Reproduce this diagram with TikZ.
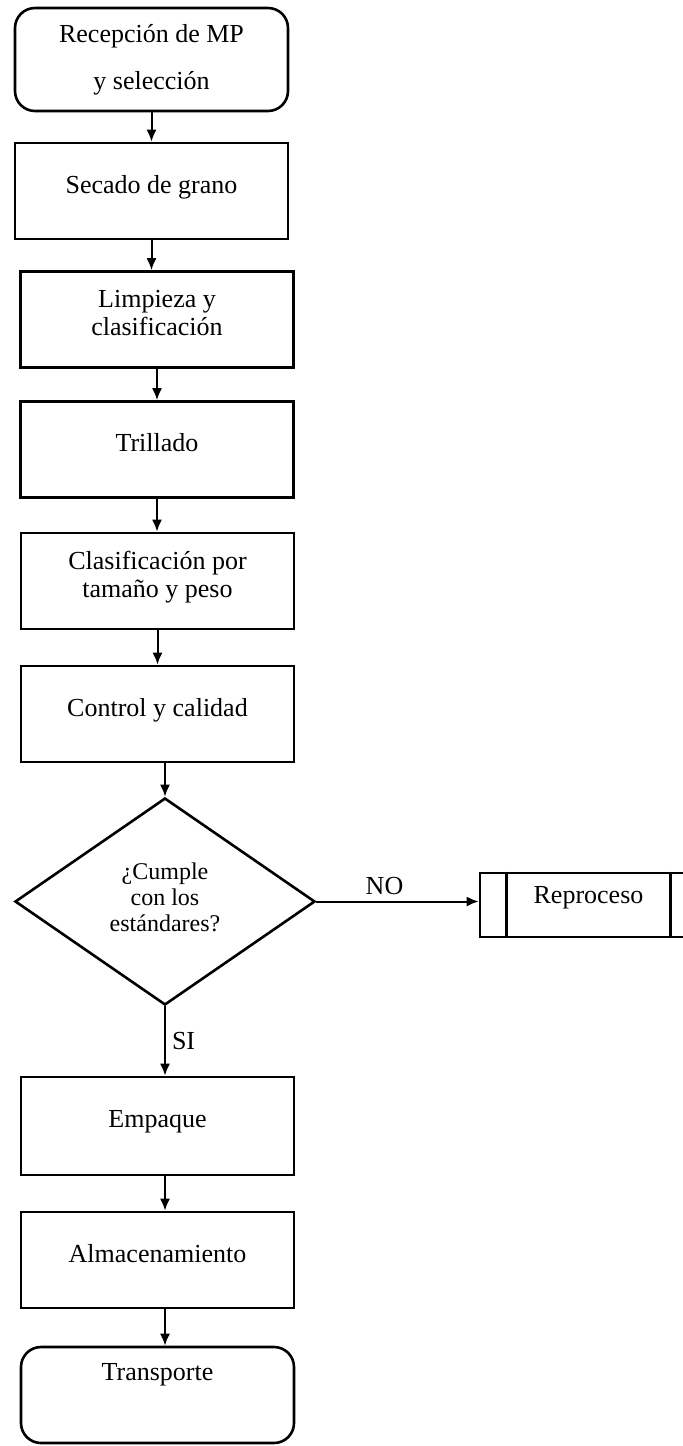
\documentclass[tikz,border=0pt]{standalone}
\usepackage{fontspec}
\setmainfont{Liberation Serif}
\usetikzlibrary{shapes.geometric,arrows.meta}

\tikzstyle{every node}=[font=\fontsize{13}{14}\selectfont, align=center]
\tikzstyle{proc}=[rectangle, draw, line width=1.3pt, minimum width=136.5pt, minimum height=48pt, text depth=7pt]
\tikzstyle{term}=[proc, rounded corners=10pt]
\tikzstyle{decis}=[diamond, draw, line width=1.3pt, minimum width=150pt, minimum height=103.5pt, inner sep=0pt, text depth=4pt, font=\fontsize{12}{13}\selectfont]
\tikzstyle{subproc}=[rectangle, draw, line width=1.3pt, minimum width=108.5pt, minimum height=32pt, text depth=10pt]

\begin{document}
\begin{tikzpicture}[x=0.5pt, y=-0.5pt]
    \useasboundingbox (0,0) rectangle (683,1446);
    \node[term, minimum height=51.5pt, text depth=3pt] (recep) at (151.5,59.5) {Recepción de MP\\[9.5pt]y selección};
    \node[proc] (secado) at (151.5,191) {Secado de grano};
    \node[proc] (limp) at (157,319.5) {Limpieza y\\clasificación};
    \node[proc] (trill) at (157,449.5) {Trillado};
    \node[proc] (clasif) at (157.5,581) {Clasificación por\\tamaño y peso};
    \node[proc] (control) at (157.5,714) {Control y calidad};
    \node[decis] (cumple) at (165,901.5) {¿Cumple\\con los\\estándares?};
    \node[subproc] (repro) at (588.5,905) {Reproceso};
    \node[proc, minimum height=49pt] (empaque) at (157.5,1126) {Empaque};
    \node[proc] (almac) at (157.5,1260) {Almacenamiento};
    \node[term, text depth=23pt] (transp) at (157.5,1395) {Transporte};
    \draw[line width=1.3pt] ([xshift=14pt]repro.north west) -- ([xshift=14pt]repro.south west)
        ([xshift=-14pt]repro.north east) -- ([xshift=-14pt]repro.south east);
    \path[line width=1pt, -{Latex[length=6pt,width=5pt]}]
    (recep) edge (recep |- secado.north)
    (secado) edge (secado |- limp.north)
    (limp.south -| trill.north) edge (trill.north)
    (trill) edge (trill |- clasif.north)
    (clasif) edge (clasif |- control.north)
    (control.south -| cumple.north) edge (cumple.north)
    (cumple.south) edge node[right, inner sep=3pt] {SI} (cumple.south |- empaque.north)
    (empaque.south -| cumple.south) edge (cumple.south |- almac.north)
    (almac.south -| cumple.south) edge (cumple.south |- transp.north)
    (cumple.east) edge node[above, pos=0.42, inner sep=3pt] {NO} (cumple.east -| repro.west)
	;
  \end{tikzpicture}
\end{document}
